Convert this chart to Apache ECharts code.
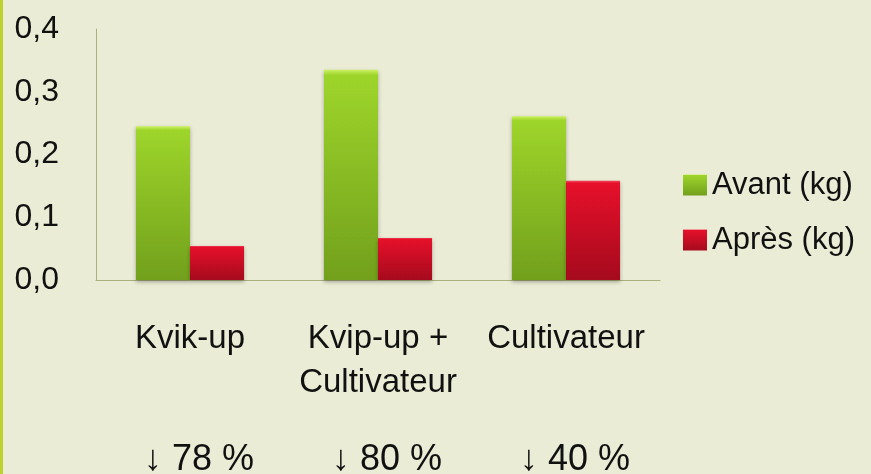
<!DOCTYPE html>
<html>
<head>
<meta charset="utf-8">
<script src="https://cdn.jsdelivr.net/npm/echarts@6/dist/echarts.min.js"></script>
<style>
  html, body { margin: 0; padding: 0; background: #EBECD5; }
  #chart {
    width: 871px;
    height: 474px;
    background: #EBECD5;
    box-shadow: inset 3px 0 0 #BCD02F;
  }
</style>
</head>
<body>
<div id="chart"></div>
<script>
// catégories et valeurs
var categories = ['Kvik-up', 'Kvip-up +\nCultivateur', 'Cultivateur'];
var avant = [0.245, 0.335, 0.261];
var apres = [0.054, 0.067, 0.158];
var reductions = ['↓ 78 %', '↓ 80 %', '↓ 40 %'];
var yTicks = [0, 0.1, 0.2, 0.3, 0.4];

var chart = echarts.init(document.getElementById('chart'));

function grad(c0, c1, c2) {
  return new echarts.graphic.LinearGradient(0, 0, 0, 1, [
    { offset: 0, color: c0 },
    { offset: 0.025, color: c1 },
    { offset: 1, color: c2 }
  ]);
}

var axisColor = '#AAB07E';
var font = '"Liberation Sans", Arial, sans-serif';

chart.setOption({
  backgroundColor: 'transparent',
  animation: false,
  grid: { left: 96, right: 211, top: 29, bottom: 194, containLabel: false, outerBoundsMode: 'none' },
  legend: {
    orient: 'vertical',
    left: 683,
    top: 168,
    padding: 0,
    itemWidth: 24,
    itemHeight: 21,
    itemGap: 21,
    icon: 'rect',
    textStyle: { fontFamily: font, fontSize: 31, lineHeight: 34, color: '#111' },
    data: ['Avant (kg)', 'Après (kg)']
  },
  xAxis: [{
    type: 'category',
    data: categories,
    axisLine: { lineStyle: { color: axisColor } },
    axisTick: { show: false },
    axisLabel: {
      interval: 0,
      margin: 37,
      verticalAlign: 'top',
      fontFamily: font,
      fontSize: 33,
      lineHeight: 44,
      color: '#111'
    }
  }, {
    type: 'category',
    position: 'bottom',
    data: categories,
    axisLine: { show: false },
    axisTick: { show: false },
    axisLabel: {
      interval: 0,
      margin: 160,
      verticalAlign: 'top',
      fontFamily: font,
      fontSize: 36,
      lineHeight: 40,
      padding: [0, 0, 0, 18],
      color: '#111',
      formatter: function (v, i) { return reductions[i]; }
    }
  }],
  yAxis: {
    type: 'value',
    min: yTicks[0],
    max: yTicks[yTicks.length - 1],
    interval: 0.1,
    axisLine: { show: true, lineStyle: { color: axisColor } },
    axisTick: { show: false },
    splitLine: { show: false },
    axisLabel: {
      margin: 37,
      fontFamily: font,
      fontSize: 32,
      color: '#111',
      formatter: function (v) { return v.toFixed(1).replace('.', ','); }
    }
  },
  series: [{
    name: 'Avant (kg)',
    type: 'bar',
    data: avant,
    barGap: '0%',
    barCategoryGap: '42.5%',
    itemStyle: {
      color: grad('#CDF266', '#9ED52A', '#72A01C'),
      shadowColor: 'rgba(0,0,0,0.3)',
      shadowBlur: 4,
      shadowOffsetY: 2
    }
  }, {
    name: 'Après (kg)',
    type: 'bar',
    data: apres,
    itemStyle: {
      color: grad('#F2475A', '#E6102A', '#A50A1D'),
      shadowColor: 'rgba(0,0,0,0.3)',
      shadowBlur: 4,
      shadowOffsetY: 2
    }
  }]
});
</script>
</body>
</html>
